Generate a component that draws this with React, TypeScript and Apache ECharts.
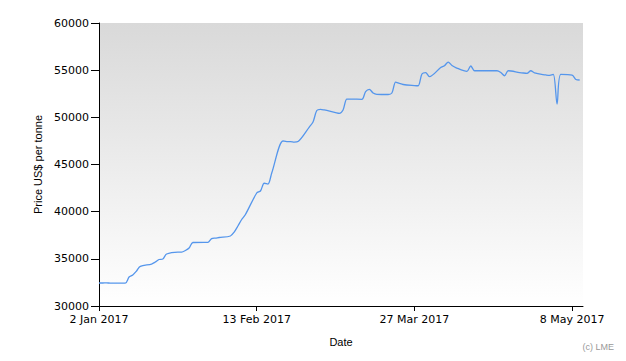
import React, { useEffect, useRef } from "react";
import * as echarts from "echarts";

const dates: string[] = [
  "2017-01-02", "2017-01-03", "2017-01-04", "2017-01-05", "2017-01-06",
  "2017-01-09", "2017-01-10", "2017-01-11", "2017-01-12", "2017-01-13",
  "2017-01-16", "2017-01-17", "2017-01-18", "2017-01-19", "2017-01-20",
  "2017-01-23", "2017-01-24", "2017-01-25", "2017-01-26", "2017-01-27",
  "2017-01-30", "2017-01-31", "2017-02-01", "2017-02-02", "2017-02-03",
  "2017-02-06", "2017-02-07", "2017-02-08", "2017-02-09", "2017-02-10",
  "2017-02-13", "2017-02-14", "2017-02-15", "2017-02-16", "2017-02-17",
  "2017-02-20", "2017-02-21", "2017-02-22", "2017-02-23", "2017-02-24",
  "2017-02-27", "2017-02-28", "2017-03-01", "2017-03-02", "2017-03-03",
  "2017-03-06", "2017-03-07", "2017-03-08", "2017-03-09", "2017-03-10",
  "2017-03-13", "2017-03-14", "2017-03-15", "2017-03-16", "2017-03-17",
  "2017-03-20", "2017-03-21", "2017-03-22", "2017-03-23", "2017-03-24",
  "2017-03-27", "2017-03-28", "2017-03-29", "2017-03-30", "2017-03-31",
  "2017-04-03", "2017-04-04", "2017-04-05", "2017-04-06", "2017-04-07",
  "2017-04-10", "2017-04-11", "2017-04-12", "2017-04-13",
  "2017-04-18", "2017-04-19", "2017-04-20", "2017-04-21",
  "2017-04-24", "2017-04-25", "2017-04-26", "2017-04-27", "2017-04-28",
  "2017-05-01", "2017-05-02", "2017-05-03", "2017-05-04", "2017-05-05",
  "2017-05-08", "2017-05-09", "2017-05-10",
];

const prices: number[] = [
  32440, 32440, 32450, 32430, 32430,
  32420, 33070, 33290, 33710, 34210,
  34450, 34660, 34930, 34980, 35510,
  35720, 35720, 35880, 36150, 36730,
  36750, 36750, 37150, 37200, 37260,
  37420, 37840, 38480, 39170, 39700,
  41980, 42190, 43010, 42930, 44100,
  47490, 47420, 47420, 47380, 47440,
  48970, 49500, 50720, 50850, 50780,
  50510, 50430, 50780, 51940, 51940,
  51910, 52720, 52970, 52580, 52440,
  52420, 52580, 53740, 53600, 53480,
  53370, 53350, 54590, 54750, 54310,
  55280, 55470, 55860, 55490, 55280,
  54880, 55440, 54940, 54940,
  54940, 54750, 54410, 54940,
  54750, 54700, 54670, 54940, 54700,
  54490, 54440, 54540, 51410, 54560,
  54480, 54010, 53960,
];

const startDate = "2017-01-02";
const xTickDays: number[] = [0, 42, 84, 126];
const xMaxDays = 128.9;
const yMin = 30000;
const yMax = 60000;
const yStep = 5000;
const monthNames = ["Jan", "Feb", "Mar", "Apr", "May", "Jun", "Jul", "Aug", "Sep", "Oct", "Nov", "Dec"];

const DAY = 86400000;
const startMs = Date.parse(startDate + "T00:00:00Z");
const toDays = (d: string) => (Date.parse(d + "T00:00:00Z") - startMs) / DAY;
const fmtDay = (v: number) => {
  const d = new Date(startMs + Math.round(v) * DAY);
  return `${d.getUTCDate()} ${monthNames[d.getUTCMonth()]} ${d.getUTCFullYear()}`;
};

export default function App() {
  const ref = useRef<HTMLDivElement>(null);
  useEffect(() => {
    document.body.style.margin = "0";
    if (!ref.current) return;
    const chart = echarts.init(ref.current, undefined, { renderer: "svg" });
    const seriesData = dates.map((d, i) => [toDays(d), prices[i]]);
    chart.setOption({
      animation: false,
      backgroundColor: "#ffffff",
      grid: {
        left: 99,
        right: 43,
        top: 23,
        bottom: 55,
        show: true,
        borderWidth: 0,
        backgroundColor: new echarts.graphic.LinearGradient(0, 0, 0, 1, [
          { offset: 0, color: "#d9d9d9" },
          { offset: 1, color: "#ffffff" },
        ]),
      },
      xAxis: {
        type: "value",
        min: 0,
        max: xMaxDays,
        name: "Date",
        nameLocation: "middle",
        nameGap: 30,
        nameTextStyle: { fontFamily: "Liberation Sans", fontSize: 11, color: "#000" },
        axisLine: { show: true, onZero: false, lineStyle: { color: "#000", width: 1 } },
        axisTick: { show: true, length: 5, customValues: xTickDays, lineStyle: { color: "#000" } },
        axisLabel: {
          customValues: xTickDays,
          formatter: (v: number) => fmtDay(v),
          fontFamily: "DejaVu Sans",
          fontSize: 11,
          color: "#000",
          margin: 8,
        },
        splitLine: { show: false },
      },
      yAxis: {
        type: "value",
        min: yMin,
        max: yMax,
        interval: yStep,
        name: "Price US$ per tonne",
        nameLocation: "middle",
        nameGap: 56,
        nameTextStyle: { fontFamily: "Liberation Sans", fontSize: 11, color: "#000" },
        axisLine: { show: true, lineStyle: { color: "#000", width: 1 } },
        axisTick: { show: true, length: 8, lineStyle: { color: "#000" } },
        axisLabel: {
          formatter: (v: number) => String(v),
          fontFamily: "DejaVu Sans",
          fontSize: 11,
          color: "#000",
          margin: 10,
        },
        splitLine: { show: false },
      },
      series: [
        {
          type: "line",
          data: seriesData,
          smooth: 0.3,
          showSymbol: false,
          lineStyle: { color: "#5596ec", width: 1.3 },
          itemStyle: { color: "#5596ec" },
        },
      ],
      graphic: [
        {
          type: "text",
          right: 12,
          top: 342,
          style: { text: "(c) LME", fontFamily: "Liberation Sans", fontSize: 9, fill: "#999999" },
        },
      ],
    });
    return () => chart.dispose();
  }, []);
  return <div ref={ref} style={{ width: 626, height: 361, position: "absolute", left: 0, top: 0 }} />;
}
